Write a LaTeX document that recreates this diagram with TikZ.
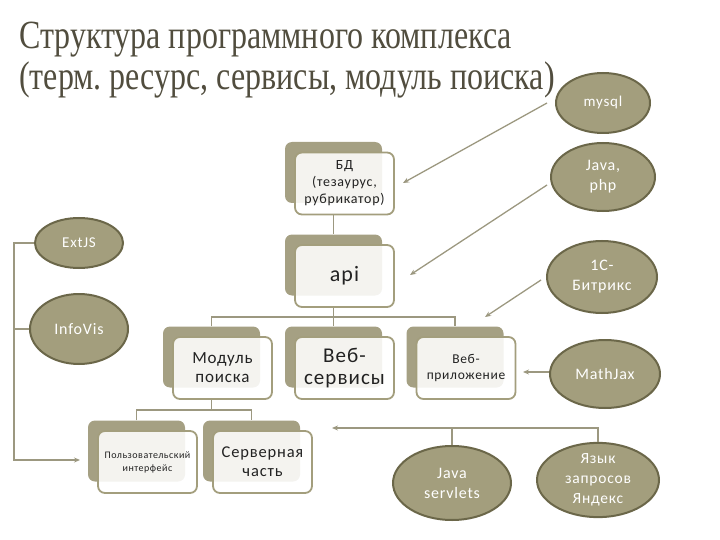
\documentclass[tikz,border=0pt]{standalone}
\usepackage{fontspec}
\setmainfont{Carlito}[LetterSpace=5]
\newfontfamily\titlefont{Liberation Serif}[FakeStretch=0.8]
\usetikzlibrary{shapes.geometric,arrows.meta,calc}
\definecolor{olive}{HTML}{A39E7D}
\definecolor{olivedark}{HTML}{6B6749}
\definecolor{linec}{HTML}{9C9880}
\definecolor{titlec}{HTML}{514D3E}
\definecolor{boxback}{HTML}{A5A083}
\definecolor{textc}{HTML}{222222}
\frenchspacing
\tikzset{
  backbox/.style={fill=boxback, rounded corners=7pt, minimum width=97pt, minimum height=61pt, inner sep=0pt},
  frontbox/.style={draw=olive, line width=1.8pt, fill=white, fill opacity=0.88, text opacity=1,
    rounded corners=7pt, minimum width=99pt, minimum height=62pt, inner sep=0pt, align=center, text=textc},
  oval/.style={ellipse, draw=olivedark, line width=2pt, fill=olive, text=white, align=center, inner sep=0pt},
  tree/.style={draw=linec, line width=1.5pt},
  arr/.style={draw=linec, line width=1.3pt, -{Stealth[length=6pt,width=5pt]}},
  titletext/.style={anchor=base west, inner sep=0pt, text=titlec, font=\titlefont\fontsize{40}{44}\selectfont},
}
\newcommand\tbox[5]{%
  \node[backbox] (#1-b) at (#2,#3) {};
  \node[frontbox, font=#4] (#1-f) at (#2+11,#3+11) {#5};
}
\begin{document}
\begin{tikzpicture}[x=1pt,y=-1pt]
\useasboundingbox (0,0) rectangle (720,540);
% title
\node[titletext] (t1) at (19,49) {Структура программного комплекса};
\node[titletext] (t2) at (19,90) {(терм. ресурс, сервисы, модуль поиска)};
% boxes
\tbox{bd}{333.5}{172.5}{\fontsize{14}{17}\selectfont}{БД\\(тезаурус,\\рубрикатор)}
\tbox{api}{333.5}{265}{\fontsize{22}{24}\selectfont}{api}
\tbox{mod}{211.5}{357}{\fontsize{17}{19}\selectfont}{Модуль\\поиска}
\tbox{ws}{333.5}{357}{\fontsize{21}{22}\selectfont}{Веб-\\сервисы}
\tbox{wa}{455}{357}{\fontsize{13.5}{16}\selectfont}{Веб-\\приложение}
\tbox{ui}{136.5}{451}{\fontsize{10}{13}\selectfont}{Пользовательский\\интерфейс}
\tbox{sv}{251.5}{451}{\fontsize{16.5}{19}\selectfont}{Серверная\\часть}
% ellipses
\node[oval, minimum width=94pt, minimum height=60pt, font=\fontsize{15}{18}\selectfont] (mysql) at (603,103) {mysql};
\node[oval, minimum width=104pt, minimum height=68pt, font=\fontsize{16}{20}\selectfont] (java) at (603,177) {Java,\\php};
\node[oval, minimum width=110pt, minimum height=72pt, font=\fontsize{16}{20}\selectfont] (bx) at (602,277) {1С-\\Битрикс};
\node[oval, minimum width=110pt, minimum height=68pt, font=\fontsize{16}{19}\selectfont] (mj) at (605,374) {MathJax};
\node[oval, minimum width=88pt, minimum height=50pt, font=\fontsize{15}{18}\selectfont] (ext) at (79,243) {ExtJS};
\node[oval, minimum width=98pt, minimum height=70pt, font=\fontsize{16}{19}\selectfont] (iv) at (79,329) {InfoVis};
\node[oval, minimum width=118pt, minimum height=74pt, font=\fontsize{16}{20}\selectfont] (js) at (452,483) {Java\\servlets};
\node[oval, minimum width=122pt, minimum height=74pt, font=\fontsize{15.5}{20}\selectfont] (yz) at (598,480) {Язык\\запросов\\Яндекс};
% tree lines
\coordinate (j1) at (333.5,317);
\coordinate (j2) at (211.5,410);
\draw[tree] (bd-b.south |- bd-f.south) -- (api-b.north);
\draw[tree] (api-b.south |- api-f.south) -- (j1);
\draw[tree] (mod-b.north) |- (j1) -| (wa-b.north);
\draw[tree] (j1) -- (ws-b.north);
\draw[tree] (mod-b.south |- mod-f.south) -- (j2);
\draw[tree] (ui-b.north) |- (j2) -| (sv-b.north);
% arrows from technologies
\coordinate (a1) at (403,183);
\coordinate (a2) at (410,275);
\coordinate (a3) at (485,317);
\coordinate (a4) at (523,372);
\draw[arr] ([xshift=-8pt]mysql.west) -- (a1);
\draw[arr] ($(java.west)+(-3,8)$) -- (a2);
\draw[arr] ($(bx.west)+(-5,3)$) -- (a3);
\draw[arr] (mj.west |- a4) -- (a4);
% left bracket
\coordinate (lb) at (14,460);
\coordinate (uiarr) at (80,460);
\draw[arr] (ext.west) -| (lb) -- (uiarr);
\draw[tree, line width=1.3pt] (iv.west) -- (iv.west -| lb);
% bottom bracket
\coordinate (svarr) at (332,428);
\draw[arr] (yz.north) |- (svarr);
\draw[tree, line width=1.3pt] (js.north) -- (js.north |- svarr);
\end{tikzpicture}
\end{document}
